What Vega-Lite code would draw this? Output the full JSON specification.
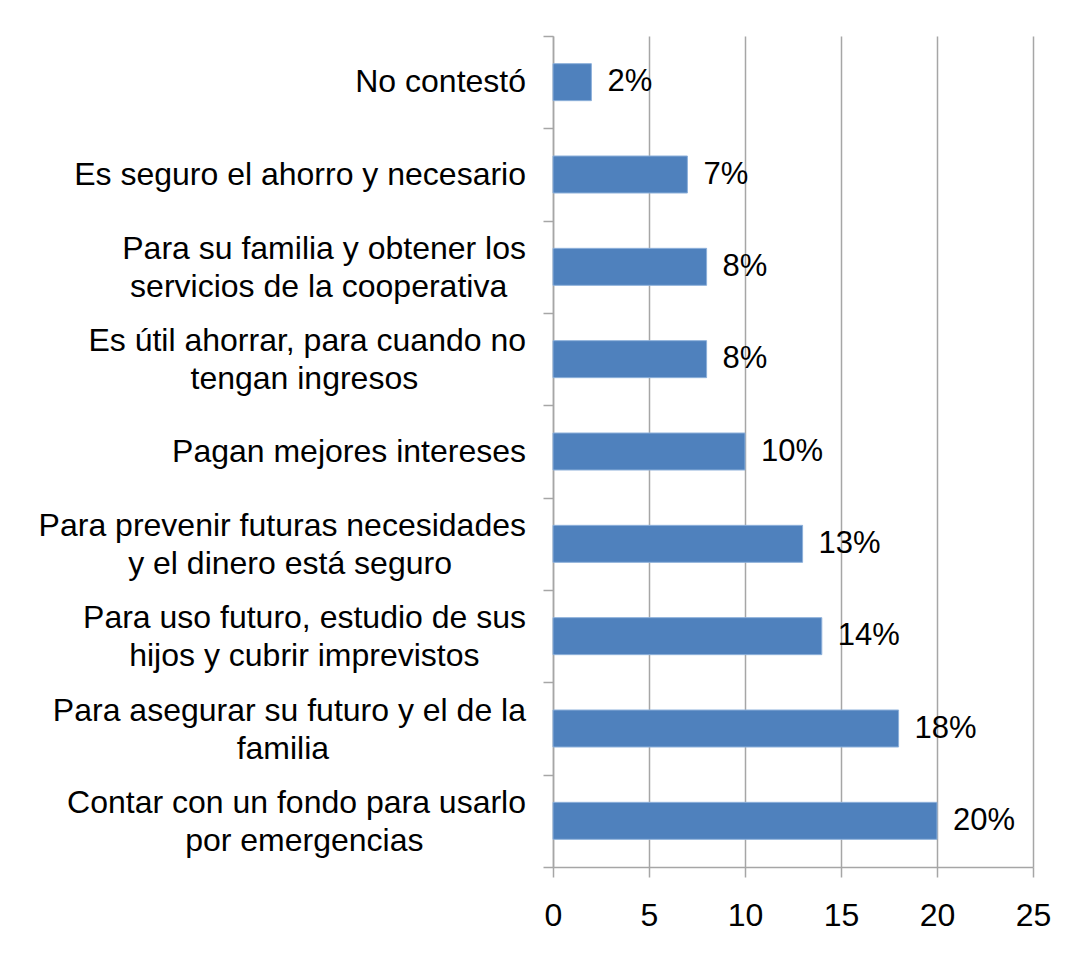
{
  "$schema": "https://vega.github.io/schema/vega-lite/v6.json",
  "autosize": {"type": "none"},
  "width": 480,
  "height": 831,
  "padding": {"left": 553, "top": 36, "right": 40, "bottom": 88},
  "background": "white",
  "config": {
    "font": "Liberation Sans",
    "view": {"stroke": null}
  },
  "data": {
    "values": [
      {"l1": "No contestó", "l2": "", "value": 2, "pct": "2%"},
      {"l1": "Es seguro el ahorro y necesario", "l2": "", "value": 7, "pct": "7%"},
      {"l1": "Para su familia y obtener los", "l2": "servicios de la cooperativa", "value": 8, "pct": "8%"},
      {"l1": "Es útil ahorrar, para cuando no", "l2": "tengan ingresos", "value": 8, "pct": "8%"},
      {"l1": "Pagan mejores intereses", "l2": "", "value": 10, "pct": "10%"},
      {"l1": "Para prevenir futuras necesidades", "l2": "y el dinero está seguro", "value": 13, "pct": "13%"},
      {"l1": "Para uso futuro, estudio de sus", "l2": "hijos y cubrir imprevistos", "value": 14, "pct": "14%"},
      {"l1": "Para asegurar su futuro y el de la", "l2": "familia", "value": 18, "pct": "18%"},
      {"l1": "Contar con un fondo para usarlo", "l2": "por emergencias", "value": 20, "pct": "20%"}
    ]
  },
  "encoding": {
    "y": {
      "field": "l1",
      "type": "nominal",
      "sort": null,
      "title": null,
      "scale": {"paddingInner": 0, "paddingOuter": 0},
      "axis": {
        "labels": false,
        "tickBand": "extent",
        "tickSize": 10,
        "tickColor": "#a6a6a6",
        "domainColor": "#a6a6a6",
        "domainWidth": 1.5,
        "tickWidth": 1.5,
        "grid": false
      }
    },
    "x": {
      "field": "value",
      "type": "quantitative",
      "title": null,
      "scale": {"domain": [0, 25], "nice": false},
      "axis": {
        "values": [0, 5, 10, 15, 20, 25],
        "labelFontSize": 32,
        "labelColor": "black",
        "labelPadding": 23,
        "tickSize": 10,
        "tickColor": "#a6a6a6",
        "tickWidth": 1.5,
        "domainColor": "#a6a6a6",
        "domainWidth": 1.5,
        "gridColor": "#a6a6a6",
        "gridWidth": 1.5,
        "gridOpacity": 1,
        "labelFlush": false
      }
    }
  },
  "layer": [
    {
      "mark": {"type": "bar", "color": "#4F81BD", "stroke": "#8DB0DA", "strokeWidth": 1, "size": 37}
    },
    {
      "mark": {"type": "text", "align": "left", "dx": 16, "fontSize": 31, "color": "black"},
      "encoding": {
        "text": {"field": "pct", "type": "nominal"}
      }
    },
    {
      "transform": [{"filter": "datum.l2 == ''"}],
      "mark": {"type": "text", "align": "right", "baseline": "middle", "dx": -27, "fontSize": 32, "color": "black"},
      "encoding": {
        "x": {"datum": 0},
        "text": {"field": "l1", "type": "nominal"}
      }
    },
    {
      "transform": [{"filter": "datum.l2 != ''"}],
      "mark": {"type": "text", "align": "right", "baseline": "middle", "dx": -27, "dy": -18, "fontSize": 32, "color": "black"},
      "encoding": {
        "x": {"datum": 0},
        "text": {"field": "l1", "type": "nominal"}
      }
    },
    {
      "transform": [{"filter": "datum.l2 != ''"}],
      "mark": {"type": "text", "align": "center", "baseline": "middle", "dx": {"expr": "-27 - length(datum.l1) * 7.15"}, "dy": 20, "fontSize": 32, "color": "black"},
      "encoding": {
        "x": {"datum": 0},
        "text": {"field": "l2", "type": "nominal"}
      }
    }
  ]
}
